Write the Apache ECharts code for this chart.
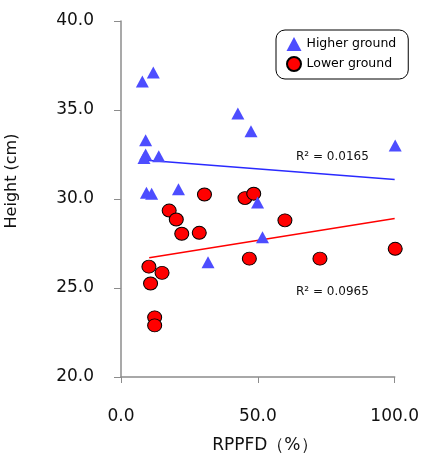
<!DOCTYPE html>
<html>
<head>
<meta charset="utf-8">
<script src="https://cdn.jsdelivr.net/npm/echarts@6/dist/echarts.min.js"></script>
<style>
  html, body { margin: 0; padding: 0; background: #fff; }
  #chart { width: 422px; height: 459px; }
</style>
</head>
<body>
<div id="chart"></div>
<script>
// data: [RPPFD %, height cm]
const higherGround = [
  [7.8, 36.6], [11.8, 37.1], [42.7, 34.8], [47.5, 33.8], [9.0, 33.3],
  [9.0, 32.5], [8.4, 32.3], [13.8, 32.4], [100.2, 33.0], [9.3, 30.35],
  [11.2, 30.3], [21.0, 30.55], [49.9, 29.8], [51.7, 27.85], [31.8, 26.45]
]
const lowerGround = [
  [30.5, 30.25], [45.3, 30.05], [48.5, 30.3], [17.6, 29.35], [20.2, 28.85],
  [22.2, 28.05], [28.6, 28.1], [59.9, 28.8], [100.2, 27.2], [46.9, 26.65],
  [72.7, 26.65], [10.2, 26.2], [15.0, 25.85], [10.8, 25.25], [12.3, 23.35],
  [12.3, 22.9]
]
// trend line end points as drawn in the picture
const higherTrend = [[7.0, 32.2], [100, 31.1]]
const lowerTrend = [[10.3, 26.7], [100, 28.9]]
const r2Labels = ['R² = 0.0165', 'R² = 0.0965']
const xTicks = [0, 50, 100]
const yTicks = [20, 25, 30, 35, 40]

const font = 'DejaVu Sans, Verdana, sans-serif'
const axisGray = '#8c8c8c'
const blue = '#4d4dff'
const red = '#ff0000'

const chart = echarts.init(document.getElementById('chart'))

chart.setOption({
  animation: false,
  backgroundColor: '#fff',
  grid: { left: 121, right: 26, top: 21, bottom: 72, containLabel: false },
  legend: {
    data: [
      { name: 'Higher ground', icon: 'triangle' },
      { name: 'Lower ground', icon: 'circle' },
    ],
    orient: 'vertical',
    left: 276,
    top: 30,
    padding: [7, 12, 7, 10],
    itemGap: 5,
    itemWidth: 15,
    itemHeight: 14,
    borderColor: '#000',
    borderWidth: 1,
    borderRadius: 9,
    textStyle: { fontFamily: font, fontSize: 12.5, color: '#000' },
  },
  xAxis: {
    type: 'value',
    min: xTicks[0],
    max: xTicks[xTicks.length - 1],
    interval: 50,
    splitLine: { show: false },
    axisLine: { lineStyle: { color: axisGray, width: 1.5 } },
    axisTick: { show: true, length: 6, lineStyle: { color: axisGray } },
    axisLabel: {
      fontFamily: font, fontSize: 17, color: '#111', margin: 31,
      formatter: (v) => v.toFixed(1),
    },
    name: 'RPPFD（%）',
    nameLocation: 'middle',
    nameGap: 60,
    nameTextStyle: { fontFamily: font, fontSize: 17, color: '#111', padding: [0, 0, 0, 14] },
  },
  yAxis: {
    type: 'value',
    min: yTicks[0],
    max: yTicks[yTicks.length - 1],
    interval: 5,
    splitLine: { show: false },
    axisLine: { show: true, lineStyle: { color: axisGray, width: 1.5 } },
    axisTick: { show: true, length: 7, lineStyle: { color: axisGray } },
    axisLabel: {
      fontFamily: font, fontSize: 17, color: '#111', margin: 27,
      formatter: (v) => v.toFixed(1),
    },
  },
  graphic: [
    {
      type: 'text', x: 12, y: 181, rotation: Math.PI / 2,
      style: {
        text: 'Height (cm)', font: '16px ' + font, fill: '#111',
        align: 'center', verticalAlign: 'middle',
      },
    },
    {
      type: 'text', x: 296, y: 157,
      style: { text: r2Labels[0], font: '12px ' + font, fill: '#111', verticalAlign: 'middle' },
    },
    {
      type: 'text', x: 296, y: 292,
      style: { text: r2Labels[1], font: '12px ' + font, fill: '#111', verticalAlign: 'middle' },
    },
  ],
  series: [
    {
      name: 'Higher trend', type: 'line', data: higherTrend, symbol: 'none',
      lineStyle: { color: '#2a2aff', width: 1.5 }, z: 1,
    },
    {
      name: 'Lower trend', type: 'line', data: lowerTrend, symbol: 'none',
      lineStyle: { color: red, width: 1.5 }, z: 1,
    },
    {
      name: 'Higher ground', type: 'scatter', data: higherGround, clip: false,
      symbol: 'triangle', symbolSize: [13, 12],
      itemStyle: { color: blue, opacity: 1 }, z: 3,
    },
    {
      name: 'Lower ground', type: 'scatter', data: lowerGround, clip: false,
      symbol: 'circle', symbolSize: [14, 13],
      itemStyle: { color: red, borderColor: '#000', borderWidth: 1, opacity: 1 }, z: 2,
    },
  ],
})
</script>
</body>
</html>
